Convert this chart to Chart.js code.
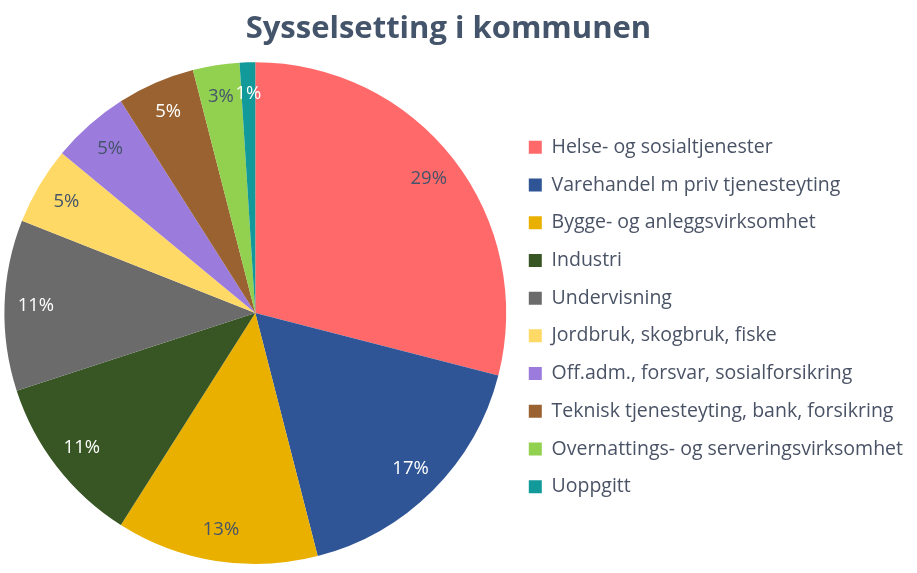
<!DOCTYPE html>
<html>
<head>
<meta charset="utf-8">
<script src="https://cdn.jsdelivr.net/npm/chart.js@4"></script>
<style>
  html, body { margin: 0; padding: 0; background: #fff; }
</style>
</head>
<body>
<canvas id="chart" width="917" height="573"></canvas>
<script>
// andel sysselsatte per næring, i prosent
const sectors = [
  'Helse- og sosialtjenester',
  'Varehandel m priv tjenesteyting',
  'Bygge- og anleggsvirksomhet',
  'Industri',
  'Undervisning',
  'Jordbruk, skogbruk, fiske',
  'Off.adm., forsvar, sosialforsikring',
  'Teknisk tjenesteyting, bank, forsikring',
  'Overnattings- og serveringsvirksomhet',
  'Uoppgitt'
]
const shares = [29, 17, 13, 11, 11, 5, 5, 5, 3, 1]

const sliceColors = ['#FF6969', '#2F5597', '#E9B000', '#375623', '#6B6B6B',
  '#FFD966', '#9B7BDB', '#9A6230', '#92D050', '#12999A']
const labelColors = ['#44546A', '#FFFFFF', '#44546A', '#FFFFFF', '#FFFFFF',
  '#44546A', '#44546A', '#FFFFFF', '#44546A', '#FFFFFF']

const FONT = 'Open Sans'

// prosent-etiketter inne i hver skive
const sliceLabels = {
  id: 'sliceLabels',
  afterDatasetsDraw(chart) {
    const { ctx } = chart
    const meta = chart.getDatasetMeta(0)
    const total = shares.reduce((a, b) => a + b, 0)
    ctx.save()
    ctx.font = `18.5px ${FONT}`
    ctx.textAlign = 'center'
    ctx.textBaseline = 'middle'
    meta.data.forEach((arc, i) => {
      const { x, y, startAngle, endAngle, outerRadius } = arc.getProps(['x', 'y', 'startAngle', 'endAngle', 'outerRadius'], true)
      const mid = (startAngle + endAngle) / 2
      const r = outerRadius * 0.875
      ctx.fillStyle = labelColors[i]
      ctx.fillText(Math.round(shares[i] / total * 100) + '%', x + Math.cos(mid) * r, y + Math.sin(mid) * r)
    })
    ctx.restore()
  }
}

new Chart(document.getElementById('chart'), {
  type: 'pie',
  data: {
    labels: sectors,
    datasets: [{
      data: shares,
      backgroundColor: sliceColors,
      borderWidth: 0
    }]
  },
  options: {
    responsive: false,
    animation: false,
    layout: { padding: { left: 0, right: 4, top: 0, bottom: 9 } },
    plugins: {
      title: {
        display: true,
        // trailing spaces nudge the centred title a little to the left, like the original
        text: 'Sysselsetting i kommunen  ',
        color: '#44546A',
        font: { family: FONT, size: 31, weight: 'bold' },
        padding: { top: 11, bottom: 14 }
      },
      legend: {
        position: 'right',
        maxWidth: 403,
        title: {
          display: true,
          text: '',
          font: { size: 10 },
          padding: { top: 29, bottom: 29 }
        },
        labels: {
          color: '#4A5366',
          font: { family: FONT, size: 19.5 },
          boxWidth: 13,
          boxHeight: 13,
          padding: 18.2
        }
      },
      tooltip: { enabled: false }
    }
  },
  plugins: [sliceLabels]
})
</script>
</body>
</html>
